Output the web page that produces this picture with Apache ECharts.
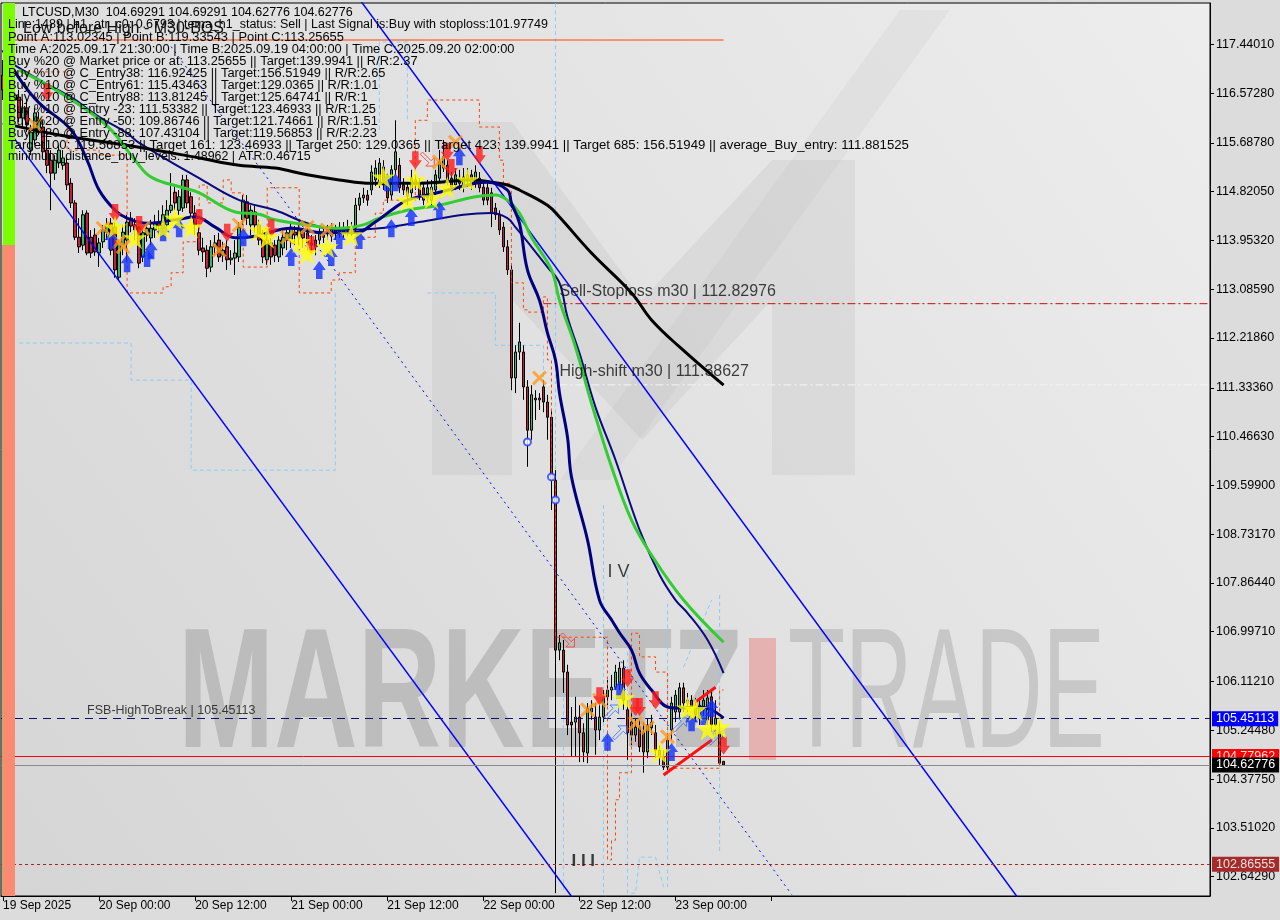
<!DOCTYPE html>
<html><head><meta charset="utf-8">
<script src="https://cdn.jsdelivr.net/npm/echarts@6/dist/echarts.min.js"></script>
<style>html,body{margin:0;padding:0;background:#dcdcdc;}#c{width:1280px;height:920px;}</style>
</head><body><div id="c"></div>
<script>
// ---------- DATA ----------
const symbolTitle = 'LTCUSD,M30  104.69291 104.69291 104.62776 104.62776';
const xTickIndex = [0, 24, 48, 72, 96, 120, 144, 168, 192];
const xTickLabels = ['19 Sep 2025', '20 Sep 00:00', '20 Sep 12:00', '21 Sep 00:00', '21 Sep 12:00', '22 Sep 00:00', '22 Sep 12:00', '23 Sep 00:00', ''];
const yTickValues = [117.44010, 116.57280, 115.68780, 114.82050, 113.95320, 113.08590, 112.21860, 111.33360, 110.46630, 109.59900, 108.73170, 107.86440, 106.99710, 106.11210, 105.24480, 104.37750, 103.51020, 102.64290];

// candles: [open, close, low, high]
const ohlc = [
[116.89,116.63,116.45,117.16],[116.04,116.81,115.92,116.98],[116.72,116.45,116.27,116.89],[116.45,116.54,116.18,116.72],
[116.50,116.13,116.06,116.63],[116.13,116.31,115.97,116.45],[116.31,116.01,115.88,116.45],[115.56,115.88,115.47,116.01],
[115.74,116.22,115.65,116.31],[115.92,116.09,115.83,116.24],[115.97,115.53,115.42,116.09],[115.56,115.29,115.15,115.92],
[115.38,115.15,114.49,115.56],[115.15,115.38,115.03,115.47],[115.33,115.56,115.24,115.65],[115.29,115.42,115.21,115.56],
[115.33,114.94,114.85,115.42],[114.97,114.62,114.53,115.06],[114.62,114.01,113.96,114.67],[114.01,113.84,113.73,114.35],
[113.87,114.41,113.78,114.49],[114.44,113.73,113.69,114.49],[114.01,113.73,113.64,114.14],[114.05,113.75,113.68,114.17],
[113.73,113.91,113.48,114.00],[113.93,114.14,113.82,114.23],[114.10,114.23,113.96,114.35],[114.26,113.78,113.69,114.35],
[114.19,113.43,113.29,114.28],[113.30,113.91,113.25,113.96],[113.87,114.10,113.69,114.23],[113.96,114.28,113.57,114.41],
[114.35,114.21,114.10,114.46],[114.23,114.14,113.96,114.35],[114.19,113.55,113.46,114.28],[113.66,114.09,113.57,114.17],
[114.05,114.17,113.93,114.28],[114.00,114.17,113.87,114.32],[114.14,114.28,114.00,114.41],[114.28,114.21,114.05,114.49],
[114.17,114.41,114.10,114.58],[114.23,114.49,114.14,114.67],[114.49,114.58,114.44,115.15],[114.81,114.62,114.49,114.94],
[114.49,114.73,114.41,114.85],[114.53,115.03,114.46,115.12],[115.03,114.62,114.53,115.12],[114.73,114.44,114.35,114.81],
[114.44,114.23,114.05,114.58],[114.09,113.78,113.69,114.23],[113.82,113.75,113.57,114.00],[113.78,113.46,113.30,113.87],
[113.48,113.84,113.39,113.96],[113.84,113.91,113.69,114.05],[113.96,113.66,113.57,114.09],[113.69,113.78,113.57,113.93],
[113.84,113.61,113.43,113.96],[113.61,113.64,113.52,113.78],[113.64,113.73,113.34,113.96],[113.66,114.19,113.57,114.28],
[114.32,114.67,114.23,114.76],[114.64,114.35,114.23,114.76],[114.23,114.49,114.05,114.58],[114.46,114.23,114.10,114.58],
[114.23,113.96,113.87,114.32],[114.05,113.66,113.55,114.14],[113.61,113.96,113.52,114.09],[113.91,113.66,113.52,114.00],
[113.87,113.69,113.57,113.96],[113.66,113.96,113.57,114.03],[113.82,114.01,113.69,114.14],[113.96,114.09,113.78,114.17],
[113.96,114.19,113.82,114.28],[114.10,114.05,113.87,114.21],[114.00,114.14,113.87,114.23],[114.10,114.00,113.82,114.17],
[114.09,113.91,113.78,114.17],[113.91,113.87,113.75,114.05],[113.96,113.84,113.69,114.05],[113.96,114.09,113.87,114.17],
[114.05,114.01,113.91,114.17],[114.09,114.14,113.96,114.23],[114.03,114.17,113.93,114.26],[114.14,114.09,113.96,114.23],
[114.10,114.17,114.00,114.28],[114.17,114.10,114.00,114.28],[114.14,114.19,114.03,114.32],[114.17,114.14,114.03,114.28],
[114.17,114.58,114.10,114.71],[114.58,114.71,114.49,114.80],[114.71,114.76,114.62,114.89],[114.76,114.67,114.57,114.85],
[114.85,115.17,114.76,115.29],[115.03,115.24,114.92,115.38],[114.97,115.33,114.89,115.42],[115.26,114.94,114.85,115.38],
[115.03,114.71,114.62,115.12],[114.76,115.21,114.67,115.29],[115.21,115.53,115.12,116.09],[115.29,114.89,114.80,115.42],
[114.94,114.85,114.76,115.06],[114.90,114.74,114.58,114.99],[114.80,115.06,114.71,115.21],[115.03,114.94,114.85,115.12],
[114.97,114.76,114.67,115.06],[114.89,114.67,114.58,114.97],[114.71,114.89,114.62,115.03],[114.67,114.90,114.58,115.03],
[114.85,115.12,114.76,115.21],[115.06,115.35,114.97,115.56],[115.24,115.44,115.17,115.74],[115.29,115.03,114.94,115.38],
[115.06,114.90,114.81,115.17],[114.94,115.12,114.85,115.24],[115.06,114.97,114.85,115.21],[114.90,115.08,114.81,115.24],
[115.06,115.12,114.94,115.24],[115.12,114.94,114.85,115.21],[114.97,115.17,114.89,115.29],[115.06,114.89,114.81,115.17],
[114.90,114.67,114.58,115.03],[114.89,114.67,114.58,114.97],[114.80,114.44,114.19,114.89],[114.53,114.41,114.32,114.62],
[114.41,114.14,114.05,114.49],[114.19,113.84,113.75,114.28],[113.84,113.43,113.34,113.96],[113.43,111.51,111.29,113.52],
[111.51,111.97,111.24,112.09],[111.97,112.15,111.83,112.49],[111.97,111.35,111.12,112.09],[111.35,110.58,109.93,111.47],
[110.58,111.21,110.41,111.38],[111.15,111.12,110.76,111.29],[111.12,111.15,110.94,111.24],[111.35,111.08,110.90,111.47],
[111.08,110.81,110.41,111.21],[110.81,109.69,109.16,110.94],[109.69,106.67,102.35,109.87],[106.67,106.80,106.49,106.94],
[106.67,106.28,105.91,106.85],[106.28,105.34,105.16,106.41],[105.39,105.34,104.77,105.66],[105.39,105.48,104.77,105.84],
[105.48,105.20,104.68,105.69],[105.20,104.86,104.68,105.37],[104.84,105.64,104.66,105.73],[105.57,105.64,105.43,105.78],
[105.48,105.25,104.81,105.73],[105.25,105.48,105.07,105.69],[105.48,105.84,105.39,105.96],[105.84,105.96,105.69,106.14],
[105.96,106.01,105.78,106.23],[106.01,106.28,105.96,106.41],[106.05,106.35,105.96,106.46],[106.35,105.78,105.61,106.49],
[105.61,105.20,104.72,105.78],[105.39,105.16,104.98,105.57],[105.16,105.30,105.04,105.46],[105.30,104.95,104.86,105.43],
[105.21,104.86,104.49,105.39],[104.86,105.34,104.75,105.46],[105.29,105.39,105.16,105.52],[105.20,104.89,104.75,105.34],
[104.89,104.77,104.63,104.98],[104.77,104.59,104.54,104.89],[104.59,105.07,104.54,105.16],[105.25,105.73,105.07,105.84],
[105.57,105.87,105.39,105.96],[105.57,106.00,105.46,106.09],[106.00,105.73,105.57,106.09],[105.73,105.78,105.57,105.91],
[105.78,105.64,105.50,105.87],[105.69,105.52,105.39,105.82],[105.46,105.69,105.34,105.82],[105.61,105.78,105.50,105.96],
[105.43,105.82,105.34,105.96],[105.84,105.34,105.21,105.96],[105.34,105.46,105.16,105.78],[105.21,104.66,104.63,105.39],
[104.69291,104.62776,104.62776,104.69291]
];

// moving averages read at sample bars: [barIndex, price]
const maBlack = [[0,116.04],[14,115.83],[34,115.61],[49,115.42],[59,115.29],[68,115.24],[76,115.12],[84,115.03],[92,114.97],[101,114.97],[109,114.99],[117,115.03],[122,114.99],[126,114.94],[129,114.85],[136,114.58],[139,114.37],[147,113.73],[157,113.02],[162,112.54],[169,112.06],[180,111.38]];
const maGreen = [[4,116.98],[12,116.68],[21,116.27],[27,115.92],[33,115.38],[37,115.08],[45,114.89],[49,114.80],[58,114.46],[64,114.42],[68,114.32],[76,114.23],[84,114.17],[90,114.23],[94,114.35],[101,114.49],[109,114.58],[118,114.73],[123,114.76],[126,114.67],[129,114.44],[132,114.01],[137,113.43],[139,112.89],[143,112.06],[147,111.06],[152,109.93],[157,108.98],[162,108.36],[170,107.56],[180,106.81]];
const maNavyFast = [[0,117.34],[4,116.84],[9,116.40],[17,115.92],[21,115.38],[24,114.85],[28,114.49],[31,114.35],[36,114.26],[43,114.32],[48,114.37],[53,114.19],[58,114.00],[63,114.03],[72,114.17],[80,114.09],[88,114.09],[93,114.28],[97,114.49],[101,114.67],[109,114.81],[118,114.97],[121,114.99],[126,114.85],[127,114.62],[129,114.26],[131,113.43],[134,112.89],[136,112.31],[138,111.83],[139,111.24],[141,110.46],[142,109.75],[146,108.63],[149,107.56],[152,107.21],[154,106.98],[157,106.67],[159,106.26],[162,105.96],[166,105.66],[169,105.64],[174,105.66],[177,105.61],[180,105.46]];
const maNavySlow = [[2,117.11],[9,116.81],[17,116.50],[24,116.15],[31,115.86],[34,115.69],[49,115.06],[59,114.67],[68,114.49],[76,114.26],[84,114.14],[94,114.17],[104,114.28],[115,114.41],[122,114.44],[126,114.35],[128,114.19],[132,113.84],[136,113.48],[139,113.20],[141,112.59],[144,111.95],[148,110.99],[153,110.05],[159,108.81],[164,108.01],[168,107.56],[171,107.33],[176,106.85],[180,106.26]];

// trend channel lines and dotted median
const channelLower = [[0,116.04],[143,102.196]];
const channelUpper = [[89,118.247],[254,102.219]];
const channelMid = [[42,117.40],[197,102.326]];
const redWedgeLow = [[165,104.45],[177,105.07]];
const redWedgeHigh = [[173,105.75],[178,106.01]];

// orange trailing stop (step levels)
const trailOrange = [[0,116.95],[16,115.56],[24,115.47],[31,113.02],[40,113.13],[42,113.38],[45,113.93],[49,114.94],[51,114.62],[55,115.03],[57,114.80],[60,113.48],[66,114.89],[74,113.02],[82,113.25],[84,113.38],[88,114.01],[93,114.44],[95,114.67],[103,116.09],[106,116.45],[119,115.97],[124,115.38],[125,114.97],[127,113.20],[130,112.72],[131,112.68],[135,112.95],[136,111.83],[137,109.69],[138,106.90],[151,102.94],[152,103.29],[153,104.01],[154,104.49],[157,106.97],[159,106.55],[163,106.28],[166,104.57],[179,105.96],[180,105.96]];
// light blue higher-timeframe band, drawn as separate runs
const trailBlueRuns = [
 [[4,112.13],[32,112.13],[32,111.47],[47,111.47],[47,109.87],[83,109.87],[83,113.07]],
 [[94,115.92],[94,117.48],[101,117.48],[101,116.09]],
 [[106,113.02],[123,113.02],[123,112.09],[135,112.09],[135,111.24]],
 [[138,118.17],[138,102.35]],
 [[140,102.40],[140,106.85]],
 [[150,109.25],[150,102.35]],
 [[156,108.01],[156,102.35],[158,102.35],[159,102.99],[163,102.99],[165,102.46],[166,102.46],[166,107.56]],
 [[170,106.37],[177,107.56]],
 [[179,107.65],[179,103.06]]
];

// signal markers [barIndex, price]
const starSignals = [[28,114.19],[33,114.00],[40,114.17],[43,114.35],[47,114.19],[64,114.14],[66,114.01],[74,113.93],[76,113.73],[81,113.84],[87,114.05],[95,115.08],[101,114.67],[103,115.03],[107,114.71],[111,114.89],[116,115.03],[155,105.82],[164,104.86],[171,105.64],[173,105.61],[176,105.27],[179,105.30]];
const crossSignals = [[8,116.01],[25,114.17],[29,113.93],[30,113.84],[35,114.17],[54,113.78],[59,114.23],[71,114.01],[76,114.19],[81,114.14],[109,115.35],[113,115.70],[134,111.51],[146,105.61],[149,105.78],[158,105.37],[161,105.29],[166,105.13]];
const sellArrows = [[11,116.59],[28,114.44],[34,114.23],[49,114.35],[56,114.09],[67,114.17],[77,113.87],[103,115.38],[111,115.53],[112,115.24],[119,115.47],[149,105.85],[156,106.17],[158,105.66],[159,105.66],[163,105.78],[180,104.97]];
const buyArrows = [[27,113.96],[31,113.55],[36,113.64],[37,113.78],[40,114.10],[44,114.17],[60,114.01],[72,113.66],[79,113.43],[82,113.66],[84,113.96],[89,113.96],[96,114.99],[98,114.99],[97,114.17],[102,114.37],[109,114.49],[114,115.45],[151,105.04],[154,105.96],[167,104.86],[172,105.39],[175,105.50],[177,105.64]];
const hollowBuy = [[152,105.57],[154,105.20],[169,105.34],[178,105.11]];
const hollowSell = [[106,115.40],[141,106.85]];
const circleSignals = [[131,110.37],[137,109.75],[138,109.34]];

// levels
const levelFSB = 105.45113, levelRed = 104.77962, levelClose = 104.62776, levelLow = 102.86555;
const levelSellStop = 112.82976, levelHighShift = 111.38627, levelTop = 117.517;

const infoLines = [
 'Line:1489 | h1_atr_c0: 0.6793 | tema_h1_status: Sell | Last Signal is:Buy with stoploss:101.97749',
 'Point A:113.02345 | Point B:119.33543 | Point C:113.25655',
 'Time A:2025.09.17 21:30:00 | Time B:2025.09.19 04:00:00 | Time C:2025.09.20 02:00:00',
 'Buy %20 @ Market price or at: 113.25655 || Target:139.9941 || R/R:2.37',
 'Buy %10 @ C_Entry38: 116.92425 || Target:156.51949 || R/R:2.65',
 'Buy %10 @ C_Entry61: 115.43463 || Target:129.0365 || R/R:1.01',
 'Buy %10 @ C_Entry88: 113.81245 || Target:125.64741 || R/R:1',
 'Buy %10 @ Entry -23: 111.53382 || Target:123.46933 || R/R:1.25',
 'Buy %20 @ Entry -50: 109.86746 || Target:121.74661 || R/R:1.51',
 'Buy %20 @ Entry -88: 107.43104 || Target:119.56853 || R/R:2.23',
 'Target100: 119.56853 || Target 161: 123.46933 || Target 250: 129.0365 || Target 423: 139.9941 || Target 685: 156.51949 || average_Buy_entry: 111.881525',
 'minimum_distance_buy_levels: 1.48962 | ATR:0.46715'
];
const infoFontSizes = [12.5, 12.85, 12.85, 12.85, 12.85, 12.85, 12.85, 12.85, 12.85, 12.85, 13.2, 12.4];
const overlayTitle = 'Low before High - M30-BOS';

// chart annotations [barIndex, price, text]
const annotations = [
 [21, levelFSB, 'FSB-HighToBreak | 105.45113', '12.5px', [0,-8]],
 [139, levelSellStop, 'Sell-Stoploss m30 | 112.82976', '16px', [0,-12]],
 [139, levelHighShift, 'High-shift m30 | 111.38627', '16px', [0,-13]],
 [151, 108.06, 'I V', '18px', [0,0]],
 [142, 102.92, 'I I I', 'bold 17px', [0,0]]
];

// ---------- CHART ----------
const N = 302;
const categories = Array.from({length: N}, (_, i) => String(i));
const chart = echarts.init(document.getElementById('c'), null, {width: 1280, height: 920});

const FONT = '"Liberation Sans", Arial, sans-serif';
const STAR = 'path://M50,0 L61,35 L98,35 L68,57 L79,91 L50,70 L21,91 L32,57 L2,35 L39,35 Z';
const DOWN = 'path://M3,0 L9,0 L9,8 L12,8 L6,16 L0,8 L3,8 Z';
const UP = 'path://M6,0 L12,8 L9,8 L9,16 L3,16 L3,8 L0,8 Z';
const CROSS = 'path://M0,2 L2,0 L7,5 L12,0 L14,2 L9,7 L14,12 L12,14 L7,9 L2,14 L0,12 L5,7 Z';
const NE = 'path://M1,13 L9,5 L6,2 L14,2 L14,10 L11,7 L3,15 Z';
const SE = 'path://M1,3 L9,11 L6,14 L14,14 L14,6 L11,9 L3,1 Z';

function lineS(name, data, color, width, extra) {
  return Object.assign({
    name, type: 'line', data, symbol: 'none', silent: true, animation: false,
    lineStyle: {color, width}, z: 4
  }, extra || {});
}
function markS(name, data, symbol, size, color, border) {
  return {
    name, type: 'scatter', data, symbol, symbolSize: size, silent: true, animation: false, z: 8,
    itemStyle: {color, borderColor: border || color, borderWidth: border ? 1 : 0}
  };
}
function priceTag(value, lineColor, lineType, bg, fg) {
  return {
    yAxis: value,
    lineStyle: {color: lineColor, type: lineType, width: 1},
    label: {show: true, position: 'end', distance: 2, formatter: value.toFixed(5),
      backgroundColor: bg, color: fg, padding: [1, 4, 1, 4], fontFamily: FONT, fontSize: 12.5}
  };
}

const graphics = [
  {type: 'rect', shape: {x: 1, y: 3, width: 1209, height: 893}, z: -100, silent: true,
   style: {fill: new echarts.graphic.LinearGradient(0, 1, 1, 0, [{offset: 0, color: '#d5d5d5'}, {offset: 1, color: '#ededed'}])}},
  {type: 'polygon', z: -90, silent: true,
   shape: {points: [[432,475],[432,122],[512,122],[642,300],[772,160],[855,160],[855,475],[772,475],[772,300],[642,440],[512,300],[512,475]]},
   style: {fill: 'rgba(170,170,170,0.18)'}},
  {type: 'polygon', z: -90, silent: true,
   shape: {points: [[560,480],[900,10],[950,10],[610,480]]},
   style: {fill: 'rgba(170,170,170,0.12)'}},
  {type: 'text', z: -80, silent: true, x: 178, y: 700, scaleX: 0.68,
   style: {text: 'MARKETZ', font: 'bold 170px "Liberation Sans"', fill: 'rgba(150,150,150,0.45)', verticalAlign: 'middle'}},
  {type: 'rect', z: -80, silent: true, shape: {x: 749, y: 638, width: 27, height: 122}, style: {fill: 'rgba(235,120,120,0.45)'}},
  {type: 'text', z: -80, silent: true, x: 788, y: 700, scaleX: 0.55,
   style: {text: 'TRADE', font: '170px "Liberation Sans"', fill: 'rgba(160,160,160,0.42)', verticalAlign: 'middle'}},
  {type: 'rect', z: 50, silent: true, shape: {x: 3, y: 3, width: 12, height: 242}, style: {fill: '#7cfc00'}},
  {type: 'rect', z: 50, silent: true, shape: {x: 3, y: 245, width: 12, height: 651}, style: {fill: '#fa8a72'}},
  {type: 'rect', z: 51, silent: true, shape: {x: 2, y: 245, width: 2, height: 651}, style: {fill: '#d9a060'}},
  {type: 'text', z: 60, silent: true, x: 22, y: 13, style: {text: symbolTitle, font: '12.5px ' + FONT, fill: '#000', verticalAlign: 'middle'}},
  {type: 'text', z: 61, silent: true, x: 23, y: 29, style: {text: overlayTitle, font: '16px ' + FONT, fill: '#111', verticalAlign: 'middle'}}
];
infoLines.forEach((t, k) => graphics.push({type: 'text', z: 60, silent: true, x: 8, y: 25 + 12 * k,
  style: {text: t, font: infoFontSizes[k] + 'px ' + FONT, fill: '#050505', verticalAlign: 'middle'}}));

const series = [
  {
    name: 'LTCUSD', type: 'candlestick', data: ohlc, barWidth: 3, z: 3, silent: true,
    itemStyle: {color: '#3db36b', color0: '#c41f3a', borderColor: '#000', borderColor0: '#000', borderWidth: 1},
    markLine: {
      symbol: ['none', 'none'], silent: true, animation: false, precision: 5,
      data: [
        priceTag(levelLow, '#b22222', [3, 3], '#a52a2a', '#f0e0e0'),
        priceTag(levelFSB, '#10106a', [8, 6], '#0000ff', '#ffffff'),
        priceTag(levelRed, '#ff0000', 'solid', '#ff0000', '#ffe0e0'),
        priceTag(levelClose, '#8a8a8a', 'solid', '#000000', '#ffffff')
      ]
    }
  },
  lineS('levelTop', [[0, levelTop], [180, levelTop]], '#ff4500', 1),
  lineS('sellStop', [[135, levelSellStop], [301, levelSellStop]], '#d01010', 1, {lineStyle: {color: '#d01010', width: 1, type: [8, 3, 2, 3]}}),
  lineS('highShift', [[135, levelHighShift], [301, levelHighShift]], '#f4f4f4', 1, {lineStyle: {color: '#f4f4f4', width: 1, type: [8, 3, 2, 3]}}),
  lineS('trailOrange', trailOrange, '#ff4500', 1, {step: 'end', lineStyle: {color: '#ff4500', width: 1, type: [3, 3]}}),
  lineS('channelMid', channelMid, '#0000ff', 1, {lineStyle: {color: '#0000ff', width: 1, type: [2, 4]}}),
  lineS('channelLower', channelLower, '#0000ff', 1.5),
  lineS('channelUpper', channelUpper, '#0000ff', 1.5),
  lineS('maNavySlow', maNavySlow, '#0a0a80', 2, {smooth: 0.4}),
  lineS('maBlack', maBlack, '#000000', 3, {smooth: 0.4}),
  lineS('maGreen', maGreen, '#33cc33', 3, {smooth: 0.4}),
  lineS('maNavyFast', maNavyFast, '#000080', 3, {smooth: 0.4}),
  lineS('redWedgeLow', redWedgeLow, '#ff1010', 3),
  lineS('redWedgeHigh', redWedgeHigh, '#ff1010', 3),
  markS('circles', circleSignals, 'emptyCircle', 7, '#2040ff'),
  markS('hollowBuy', hollowBuy, NE, 14, 'rgba(0,0,0,0)', '#2a6cff'),
  markS('hollowSell', hollowSell, SE, 14, 'rgba(0,0,0,0)', '#ff3030'),
  markS('cross', crossSignals, CROSS, 15, '#ff9a1a'),
  markS('sell', sellArrows, DOWN, [13, 18], '#ff1a1a'),
  markS('buy', buyArrows, UP, [13, 18], '#1030ff'),
  markS('star', starSignals, STAR, 23, '#ffff00'),
  {
    name: 'annotations', type: 'scatter', symbolSize: 0, silent: true, animation: false, z: 9,
    data: annotations.map(a => ({value: [a[0], a[1]],
      label: {show: true, position: 'right', distance: 0, offset: a[4], formatter: a[2],
        color: '#111', fontFamily: FONT, fontSize: parseFloat(a[3].replace('bold ', '')), fontWeight: a[3].indexOf('bold') >= 0 ? 'bold' : 'normal'}}))
  }
];
trailBlueRuns.forEach((run, k) => series.push(lineS('trailBlue' + k, run, '#87cefa', 1, {lineStyle: {color: '#87cefa', width: 1, type: [4, 3]}, z: 3})));

const option = {
  backgroundColor: '#dcdcdc',
  animation: false,
  grid: {left: 1, right: 70, top: 3, bottom: 24, show: true, borderColor: '#000', borderWidth: 1, backgroundColor: 'transparent'},
  xAxis: {
    type: 'category', data: categories, boundaryGap: true,
    axisLine: {show: true, lineStyle: {color: '#000'}},
    axisTick: {show: true, alignWithLabel: true, length: 5, lineStyle: {color: '#000'},
      interval: (i) => xTickIndex.indexOf(i) >= 0},
    axisLabel: {show: true, interval: (i) => xTickIndex.indexOf(i) >= 0, align: 'left', margin: 4,
      formatter: (v, i) => xTickLabels[xTickIndex.indexOf(Number(v))] || '',
      color: '#000', fontFamily: FONT, fontSize: 12},
    splitLine: {show: false}
  },
  yAxis: {
    type: 'value', position: 'right', min: 102.299, max: 118.175, scale: true,
    axisLine: {show: true, lineStyle: {color: '#000'}},
    axisTick: {show: true, length: 4, lineStyle: {color: '#000'}, customValues: yTickValues},
    axisLabel: {show: true, margin: 6, color: '#000', fontFamily: FONT, fontSize: 12.5,
      customValues: yTickValues, formatter: (v) => v.toFixed(5)},
    splitLine: {show: false}
  },
  graphic: graphics,
  series
};
chart.setOption(option);
</script></body></html>
